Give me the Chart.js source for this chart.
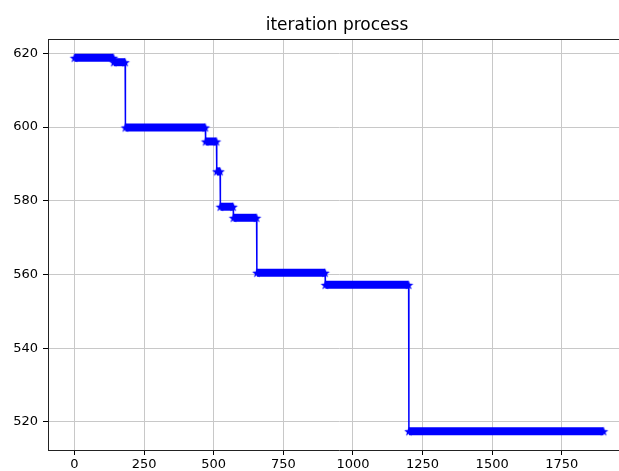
<!DOCTYPE html>
<html>
<head>
<meta charset="utf-8">
<script src="https://cdn.jsdelivr.net/npm/chart.js@4.4.1/dist/chart.umd.min.js"></script>
<style>
  html, body { margin: 0; padding: 0; background: #fff; overflow: hidden; }
  #wrap { width: 660px; height: 471px; }
</style>
</head>
<body>
<div id="wrap"><canvas id="chart" width="660" height="471"></canvas></div>
<script>
// step levels of the iteration curve (start / end iteration and value)
var segStart = [0, 141, 183, 471, 511, 524, 571, 655, 901, 1201];
var segEnd = [140, 182, 470, 510, 523, 570, 654, 900, 1200, 1900];
var segValue = [618.8, 617.6, 599.9, 596.1, 588.0, 578.4, 575.4, 560.5, 557.2, 517.5];

var xTicks = [0, 250, 500, 750, 1000, 1250, 1500, 1750];
var yTicks = [520, 540, 560, 580, 600, 620];

var blue = '#0000ff';

// filled five point star, like the matplotlib '*' marker
function makeStar(r) {
    var size = Math.ceil(r * 2) + 2;
    var c = document.createElement('canvas');
    c.width = size;
    c.height = size;
    var g = c.getContext('2d');
    var cx = size / 2, cy = size / 2 + 0.5;
    g.beginPath();
    for (var i = 0; i < 10; i++) {
        var rad = (i % 2 === 0) ? r : r * 0.42;
        var a = -Math.PI / 2 + i * Math.PI / 5;
        var px = cx + rad * Math.cos(a);
        var py = cy + rad * Math.sin(a);
        if (i === 0) g.moveTo(px, py); else g.lineTo(px, py);
    }
    g.closePath();
    g.fillStyle = blue;
    g.fill();
    return c;
}

var points = [];
for (var i = 0; i < segValue.length; i++) {
    points.push({ x: segStart[i], y: segValue[i] });
    points.push({ x: segEnd[i], y: segValue[i] });
}

// title and top frame line
var framePlugin = {
    id: 'frame',
    afterDraw: function (chart) {
        var ctx = chart.ctx, a = chart.chartArea;
        ctx.save();
        ctx.strokeStyle = '#222';
        ctx.lineWidth = 1;
        ctx.beginPath();
        ctx.moveTo(a.left, a.top + 0.5);
        ctx.lineTo(a.right, a.top + 0.5);
        ctx.stroke();
        ctx.fillStyle = '#000';
        ctx.font = '17px "DejaVu Sans", sans-serif';
        ctx.textAlign = 'center';
        ctx.textBaseline = 'alphabetic';
        ctx.fillText('iteration process', (a.left + a.right) / 2 - 2, 30);
        ctx.restore();
    }
};

Chart.defaults.font.family = '"DejaVu Sans", sans-serif';
Chart.defaults.font.size = 13;
Chart.defaults.color = '#000';

new Chart(document.getElementById('chart'), {
    type: 'line',
    data: {
        datasets: [{
            data: points,
            borderColor: blue,
            backgroundColor: blue,
            borderWidth: 1.5,
            borderCapStyle: 'butt',
            pointStyle: makeStar(5),
            pointRadius: 4,
            fill: false,
            tension: 0,
            segment: {
                borderWidth: function (ctx) {
                    return ctx.p0.parsed.y === ctx.p1.parsed.y ? 8 : 1.5;
                }
            }
        }]
    },
    options: {
        responsive: false,
        animation: false,
        devicePixelRatio: 1,
        layout: { padding: { top: 39, right: 30, left: 0, bottom: 0 } },
        plugins: {
            legend: { display: false },
            title: { display: false },
            tooltip: { enabled: false }
        },
        scales: {
            x: {
                type: 'linear',
                min: -95,
                max: 1995,
                afterFit: function (s) { s.height = 21; },
                afterBuildTicks: function (s) {
                    s.ticks = xTicks.map(function (v) { return { value: v }; });
                },
                ticks: {
                    padding: 2, autoSkip: false, maxRotation: 0,
                    callback: function (v) { return String(v); }
                },
                grid: { color: '#c8c8c8', lineWidth: 1, tickLength: 5, tickColor: '#000' },
                border: { color: '#222', width: 1 }
            },
            y: {
                type: 'linear',
                min: 512.4,
                max: 623.9,
                afterFit: function (s) { s.width = 48; },
                afterBuildTicks: function (s) {
                    s.ticks = yTicks.map(function (v) { return { value: v }; });
                },
                ticks: {
                    padding: 5, autoSkip: false,
                    callback: function (v) { return String(v); }
                },
                grid: { color: '#c8c8c8', lineWidth: 1, tickLength: 5, tickColor: '#000' },
                border: { color: '#222', width: 1 }
            }
        }
    },
    plugins: [framePlugin]
});
</script>
</body>
</html>
